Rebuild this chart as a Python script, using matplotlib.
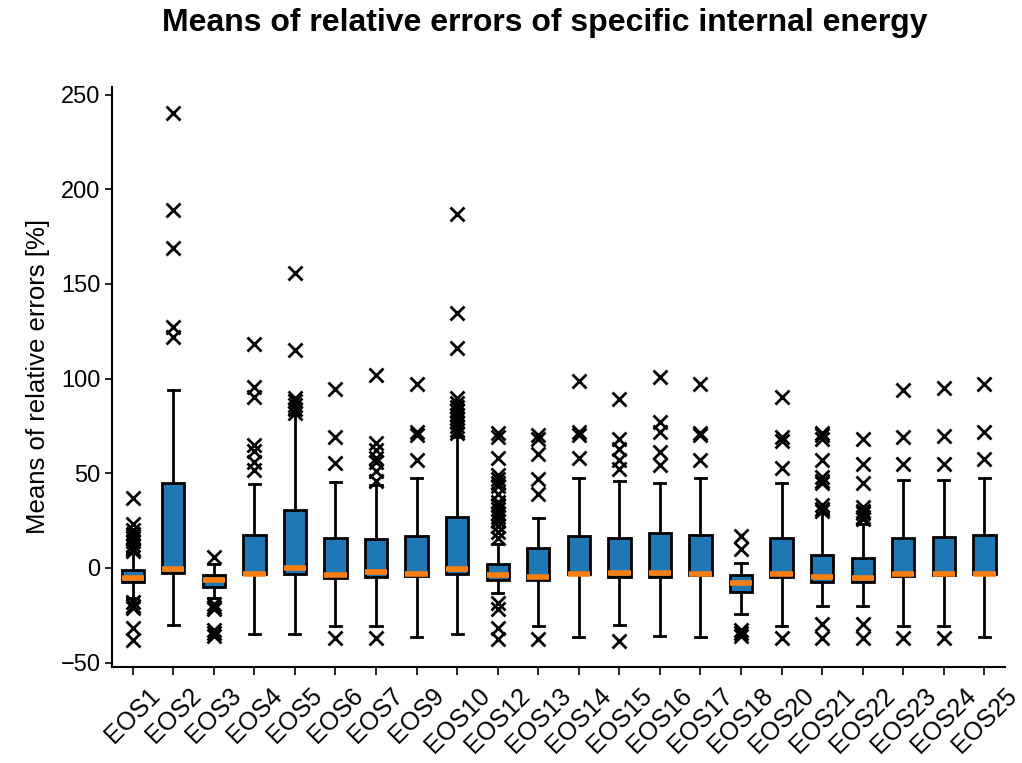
import matplotlib
matplotlib.use("Agg")
import matplotlib.pyplot as plt

plt.rcParams["font.family"] = ["Liberation Sans", "DejaVu Sans"]

labels = ["EOS1", "EOS2", "EOS3", "EOS4", "EOS5", "EOS6", "EOS7", "EOS9", "EOS10",
          "EOS12", "EOS13", "EOS14", "EOS15", "EOS16", "EOS17", "EOS18", "EOS20",
          "EOS21", "EOS22", "EOS23", "EOS24", "EOS25"]
q1 = [-7.5, -2.5, -10, -3.4, -3.4, -5.5, -5, -4.4, -3.4, -6.5, -6.5, -3.4, -4.8,
      -4.8, -3.8, -12.5, -4.8, -7.5, -7.5, -4.4, -4, -3.4]
med = [-5.5, -0.5, -6.5, -3, 0, -3.8, -2, -3.4, -0.4, -4, -5, -3, -2.8, -2.8, -3.4,
       -7.9, -3.4, -4.8, -5.5, -3.4, -3, -3]
q3 = [-1, 45, -4, 17.4, 30.5, 16, 15.4, 16.8, 27, 2, 10.7, 16.8, 15.8, 18.2, 17.2,
      -4, 15.8, 6.7, 5.3, 15.8, 16.2, 17.2]
whislo = [-16, -30, -16, -34.7, -35, -30.7, -30.7, -36.4, -34.7, -13.5, -30.7, -36.4,
          -30.3, -36.2, -36.4, -24.2, -30.7, -20, -20, -30.7, -30.7, -36.4]
whishi = [8, 94, 2, 44.4, 81.4, 45.5, 44, 47.5, 69, 12.7, 26.3, 47.5, 45.7, 45, 47.5,
          2.6, 45, 29, 23, 46.5, 46.5, 47.5]
fliers = [
    [37, 23, 20, 18, 16, 14, 12, 10, 9, -18, -20, -21, -32, -38],
    [240, 189, 169, 127, 122],
    [5.7, -19, -20.5, -21.5, -33, -34.5, -36],
    [118, 95.5, 90, 65, 61.6, 56, 51.5],
    [155.5, 115, 89.5, 88, 86, 84, 82],
    [94.5, 69, 55.6, -36.8],
    [102, 66, 62, 58, 56, 51, 46, -36.8],
    [97, 72, 70, 57],
    [187, 134.5, 116, 89.5, 87, 85, 83, 81, 79, 77, 75, 73, 71],
    [71, 69, 58, 49, 47, 45, 43, 39, 35, 33, 31, 29, 27, 25, 22, 19, 16,
     -18.6, -21.6, -31.7, -37.8],
    [70, 68, 60, 47, 39, -37.4],
    [98.6, 72, 70, 58],
    [89, 68, 63, 57, 52, -38.8],
    [101, 77, 72, 61, 54.5],
    [97, 71, 70, 57],
    [16.8, 9.7, -32.7, -34.5, -35.8],
    [90.5, 69, 67, 52.7, -36.8],
    [71, 70, 68, 57, 48, 46, 45, 33, 31, 30, -29.7, -36.8],
    [68, 55, 45, 32, 30, 29, 27, 26, -29.7, -36.8],
    [94, 69, 55, -36.8],
    [95, 69.7, 55, -36.8],
    [97, 71.7, 57.6],
]

stats = [dict(label=l, q1=a, med=m, q3=b, whislo=lo, whishi=hi, fliers=f)
         for l, a, m, b, lo, hi, f in zip(labels, q1, med, q3, whislo, whishi, fliers)]

fig = plt.figure(figsize=(10.22, 7.63), dpi=100)
ax = fig.add_axes([0.11, 0.126, 0.873, 0.76])

ax.bxp(stats, widths=0.55, patch_artist=True,
       boxprops=dict(facecolor="#1f77b4", edgecolor="black", linewidth=2),
       medianprops=dict(color="#ff7f0e", linewidth=4),
       whiskerprops=dict(color="black", linewidth=2),
       capprops=dict(color="black", linewidth=2),
       flierprops=dict(marker="x", markeredgecolor="black", markersize=10,
                       markeredgewidth=2))

ax.set_ylim(-52.3, 254)
ax.set_yticks([-50, 0, 50, 100, 150, 200, 250])
ax.tick_params(axis="y", labelsize=17, width=1.2, length=5)
ax.tick_params(axis="x", labelsize=18, width=1.2, length=6, pad=6)
plt.setp(ax.get_xticklabels(), rotation=45)
for s in ["top", "right"]:
    ax.spines[s].set_visible(False)
for s in ["left", "bottom"]:
    ax.spines[s].set_linewidth(1.5)

ax.set_ylabel("Means of relative errors [%]", fontsize=18.5, labelpad=8)
fig.suptitle("Means of relative errors of specific internal energy",
             fontsize=23, fontweight="bold", x=0.533, y=0.99)

fig.savefig("out.png", dpi=100)
